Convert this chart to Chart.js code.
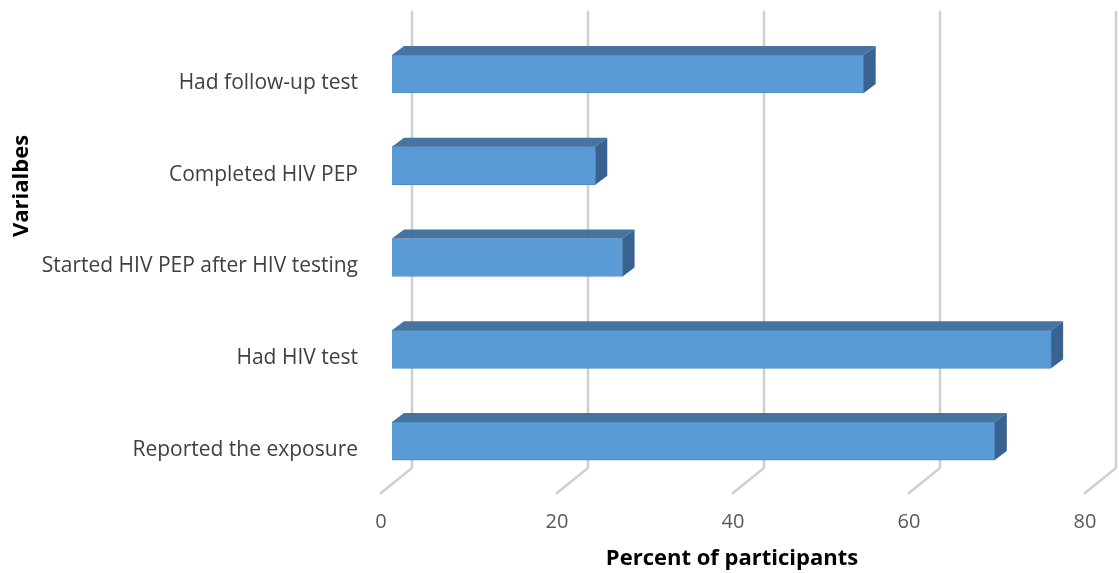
<!DOCTYPE html>
<html><head><meta charset="utf-8">
<script src="https://cdn.jsdelivr.net/npm/chart.js@4/dist/chart.umd.min.js"></script>
<style>html,body{margin:0;padding:0;background:#fff;} #wrap{width:1119px;height:573px;position:relative;}</style>
</head><body><div id="wrap"><canvas id="c"></canvas></div>
<script>
const categories = ["Had follow-up test", "Completed HIV PEP", "Started HIV PEP after HIV testing", "Had HIV test", "Reported the exposure"];
const percentValues = [53.6, 23.1, 26.2, 74.9, 68.5];
const xTickValues = [0, 20, 40, 60, 80];
const xAxisTitle = "Percent of participants";
const yAxisTitle = "Varialbes";

const FONT = "'Open Sans', 'DejaVu Sans', sans-serif";

const threeD = {
  id: 'threeD',
  beforeDatasetsDraw(chart) {
    const ctx = chart.ctx, xs = chart.scales.x, a = chart.chartArea;
    ctx.save();
    ctx.strokeStyle = '#cfcfcf';
    ctx.lineWidth = 2.5;
    ctx.lineCap = 'round';
    xTickValues.forEach(v => {
      const p = xs.getPixelForValue(v);
      ctx.beginPath();
      ctx.moveTo(p + 20, a.top - 16);
      ctx.lineTo(p + 20, a.bottom - 19);
      ctx.lineTo(p - 11, a.bottom + 6);
      ctx.stroke();
    });
    ctx.restore();
  },
  afterDatasetsDraw(chart) {
    const ctx = chart.ctx;
    const meta = chart.getDatasetMeta(0);
    const dx = 12, dy = -9;
    ctx.save();
    meta.data.forEach(el => {
      const p = el.getProps(['x', 'y', 'base', 'height'], true);
      const top = p.y - p.height / 2, bot = p.y + p.height / 2;
      ctx.beginPath();
      ctx.moveTo(p.base, top);
      ctx.lineTo(p.base + dx, top + dy);
      ctx.lineTo(p.x + dx, top + dy);
      ctx.lineTo(p.x, top);
      ctx.closePath();
      ctx.fillStyle = '#4674a1';
      ctx.fill();
      ctx.beginPath();
      ctx.moveTo(p.x, top);
      ctx.lineTo(p.x + dx, top + dy);
      ctx.lineTo(p.x + dx, bot + dy);
      ctx.lineTo(p.x, bot);
      ctx.closePath();
      ctx.fillStyle = '#386390';
      ctx.fill();
    });
    ctx.restore();
  },
  afterDraw(chart) {
    const ctx = chart.ctx, xs = chart.scales.x, a = chart.chartArea;
    ctx.save();
    ctx.fillStyle = '#000';
    ctx.font = "bold 22px " + FONT;
    ctx.textAlign = 'center';
    ctx.textBaseline = 'middle';
    const cx = (xs.getPixelForValue(xTickValues[0]) + xs.getPixelForValue(xTickValues[xTickValues.length - 1])) / 2 - 12;
    ctx.fillText(xAxisTitle, cx, a.bottom + 72);
    ctx.translate(22, a.top + 158);
    ctx.rotate(-Math.PI / 2);
    ctx.fillText(yAxisTitle, 0, 0);
    ctx.restore();
  }
};

new Chart(document.getElementById('c'), {
  type: 'bar',
  data: {
    labels: categories,
    datasets: [{
      data: percentValues,
      backgroundColor: '#5b9bd5',
      borderColor: '#4f8cc4',
      borderWidth: 1,
      barThickness: 38
    }]
  },
  options: {
    indexAxis: 'y',
    responsive: true,
    maintainAspectRatio: false,
    animation: false,
    layout: { padding: { top: 28, left: 0, right: 23, bottom: 0 } },
    plugins: { legend: { display: false }, tooltip: { enabled: false } },
    scales: {
      x: {
        min: 0, max: 80,
        afterBuildTicks(scale) { scale.ticks = xTickValues.map(v => ({ value: v })); },
        afterFit(scale) { scale.height = 86; scale.paddingLeft = 0; scale.paddingRight = 0; },
        grid: { display: false, drawTicks: false },
        border: { display: false },
        ticks: { padding: 23, labelOffset: -11, color: '#595959', font: { family: FONT, size: 20 } }
      },
      y: {
        afterFit(scale) { scale.width = 392; scale.paddingTop = 0; scale.paddingBottom = 0; },
        grid: { display: false, drawTicks: false },
        border: { display: false },
        ticks: { padding: 34, labelOffset: 9, color: '#404040', font: { family: FONT, size: 21 } }
      }
    }
  },
  plugins: [threeD]
});
</script>
</body></html>
